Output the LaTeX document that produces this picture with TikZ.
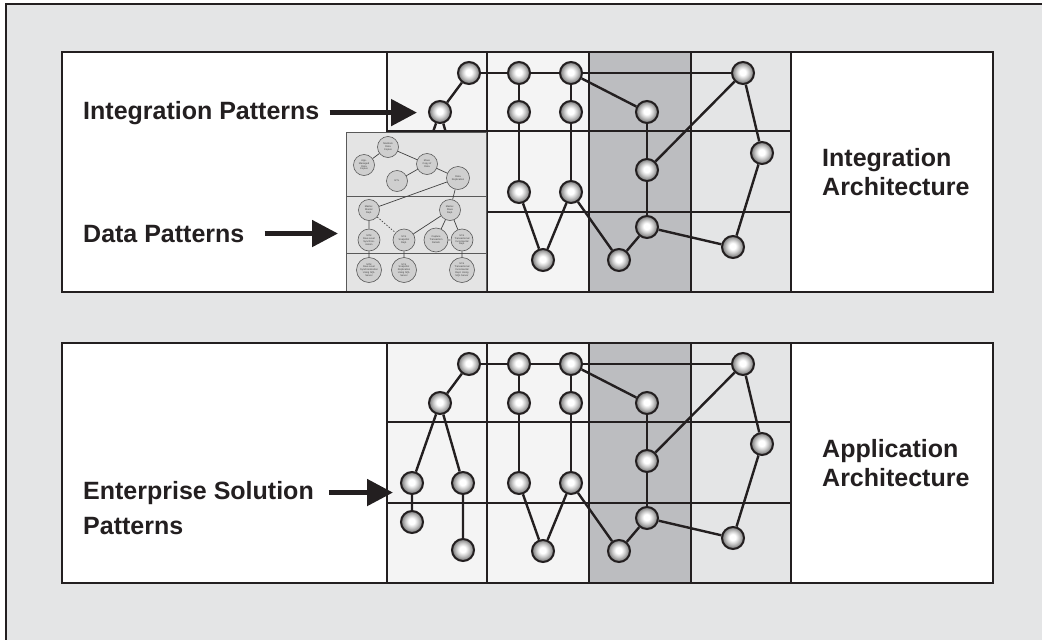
\documentclass[tikz,border=0pt]{standalone}
\usepackage{fontspec}
\setmainfont{Liberation Sans}
\usetikzlibrary{arrows.meta,positioning}

\definecolor{inkline}{HTML}{231F20}
\definecolor{framegray}{HTML}{E4E5E6}
\definecolor{cellpale}{HTML}{F4F4F4}
\definecolor{celldark}{HTML}{BCBDC0}
\definecolor{cellmid}{HTML}{E4E5E6}
\definecolor{insetfill}{HTML}{E4E4E4}
\definecolor{insetnode}{HTML}{CFCFCF}

\pgfdeclareradialshading{pearl}{\pgfpoint{-1bp}{2bp}}{%
  color(0bp)=(white); color(7bp)=(white); color(15bp)=(black!22);
  color(25bp)=(black!55); color(50bp)=(black!55)}

\tikzset{
  ball/.style={circle, draw=inkline, line width=2pt, minimum size=22pt,
    inner sep=0pt, shading=pearl},
  link/.style={draw=inkline, line width=2.4pt},
  gridline/.style={draw=inkline, line width=2.3pt},
  lbl/.style={font=\fontsize{25}{30}\selectfont\bfseries, text=inkline, inner sep=0pt},
  bigarrow/.style={draw=inkline, line width=5pt, -{Triangle[length=26pt,width=26pt]}},
  insetbox/.style={draw=black!65, fill=insetfill, line width=1pt, inner sep=0pt},
  dpnode/.style={circle, draw=black!65, fill=insetnode, line width=0.6pt,
    minimum size=21pt, inner sep=0pt, align=center,
    font=\fontsize{2.5}{2.9}\selectfont, text=black!75},
  dplink/.style={draw=black!75, line width=0.7pt},
}

% cells and grid of one architecture panel
\newcommand\panelgrid{%
  \fill[white] (62,343) rectangle (993,583);
  \fill[cellpale] (387,343) rectangle (589,583);
  \fill[celldark] (589,343) rectangle (691,583);
  \fill[cellmid] (691,343) rectangle (791,583);
  \foreach \gx in {387,487,589,691,791}
    \draw[gridline] (\gx,343) -- (\gx,583);
  \foreach \gy in {422,503}
    \draw[gridline] (387,\gy) -- (791,\gy);
}

% the pattern network, names prefixed with #1
\newcommand\patternnet[1]{%
  \foreach \n/\x/\y in {A/469/364, B/440/403, C/519/364, D/571/364, E/519/403,
      F/571/403, G/647/403, H/743/364, I/647/461, J/762/444, K/519/483,
      L/571/483, M/647/518, N/543/551, O/619/551, P/733/538}
    \node[ball] (#1\n) at (\x,\y) {};
  \foreach \u/\v in {A/B, A/C, C/D, D/H, C/E, D/F, E/K, F/L, K/N, N/L, L/O,
      O/M, M/I, I/G, G/D, I/H, H/J, J/P, P/M}
    \draw[link] (#1\u) -- (#1\v);
}

\begin{document}
\begin{tikzpicture}[x=1pt, y=-1pt]
\useasboundingbox (0,0) rectangle (1042,640);

% outer frame
\fill[framegray] (6,4) rectangle (1042,640);
\draw[inkline, line width=2pt] (6,640) -- (6,4) -- (1042,4);

% upper panel
\begin{scope}[yshift=291pt]
  \panelgrid
  \patternnet{t}
  \coordinate (tQ) at (412,483);
  \coordinate (tR) at (463,483);
  \draw[link] (tB) -- (tQ) (tB) -- (tR);
\end{scope}

% data patterns inset
\node[insetbox, anchor=north west, minimum width=140pt, minimum height=159pt] (dpbox) at (346,132) {};
\draw[draw=black!65, line width=1pt] (346,196) -- (486,196) (346,253) -- (486,253);
\node[dpnode] (mdc) at (388,147) {Maintain\\Data\\Copies};
\node[dpnode] (amd) at (364,165) {App-\\Managed\\Data\\Copies};
\node[dpnode] (mcd) at (427,164) {Move\\Copy of\\Data};
\node[dpnode] (etl) at (397,181) {ETL};
\node[dpnode, minimum size=23pt] (drp) at (458,178) {Data\\Replication};
\node[dpnode] (mmr) at (369,210) {Master-\\Master\\Repl.};
\node[dpnode] (msr) at (450,210) {Master-\\Slave\\Repl.};
\node[dpnode, minimum size=22pt] (mmrow) at (369,240) {M-M\\Row-Level\\Synchron-\\ization};
\node[dpnode, minimum size=22pt] (mssnap) at (404,240) {M-S\\Snapshot\\Repl.};
\node[dpnode, minimum size=24pt] (ctd) at (436,240) {Capture\\Transaction\\Details};
\node[dpnode, minimum size=22pt] (mstir) at (462,240) {M-S\\Transactional\\Incremental\\Repl.};
\node[dpnode, minimum size=25pt] (mmsql) at (369,270) {M-M\\Row-Level\\Synchronization\\Using SQL\\Server};
\node[dpnode, minimum size=25pt] (mssql) at (404,270) {M-S\\Snapshot\\Replication\\Using SQL\\Server};
\node[dpnode, minimum size=25pt] (mstsql) at (462,270) {M-S\\Transactional\\Incremental\\Repl. Using\\SQL Server};
\draw[dplink] (mdc) -- (amd) (mdc) -- (mcd) (mcd) -- (etl) (mcd) -- (drp)
  (drp) -- (mmr) (drp) -- (msr) (mmr) -- (mmrow) (msr) -- (mssnap)
  (msr) -- (ctd) (msr) -- (mstir) (mmrow) -- (mmsql) (mssnap) -- (mssql)
  (mstir) -- (mstsql);
\draw[dplink, dash pattern=on 1.5pt off 1.5pt] (mmr) -- (mssnap) (ctd) -- (mstir);

\draw[gridline] (62,52) rectangle (993,292);

% lower panel
\panelgrid
\patternnet{b}
\foreach \n/\x/\y in {Q/412/483, R/463/483, S/412/522, T/463/550}
  \node[ball] (b\n) at (\x,\y) {};
\draw[link] (bB) -- (bQ) (bB) -- (bR) (bQ) -- (bS) (bR) -- (bT);
\draw[gridline] (62,343) rectangle (993,583);

% labels
\node[lbl, anchor=base west] (intpat) at (83,119) {Integration Patterns};
\node[lbl, anchor=base west] (datpat) at (83,242) {Data Patterns};
\node[lbl, anchor=base west] (entpat) at (83,499) {Enterprise Solution};
\node[lbl, anchor=base west] (entpat2) at (83,534) {Patterns};
\node[lbl, anchor=base west] (intarch) at (822,166) {Integration};
\node[lbl, anchor=base west] (intarch2) at (822,195) {Architecture};
\node[lbl, anchor=base west] (apparch) at (822,457) {Application};
\node[lbl, anchor=base west] (apparch2) at (822,486) {Architecture};

% arrows
\draw[bigarrow, shorten <=10pt, shorten >=11pt] (intpat.east) -- (intpat.east -| tB.west);
\draw[bigarrow, shorten <=20pt, shorten >=8pt] (datpat.east) -- (datpat.east -| dpbox.west);
\draw[bigarrow, shorten <=15pt, shorten >=7pt] (entpat.east) -- (entpat.east -| bQ.west);
\end{tikzpicture}
\end{document}
